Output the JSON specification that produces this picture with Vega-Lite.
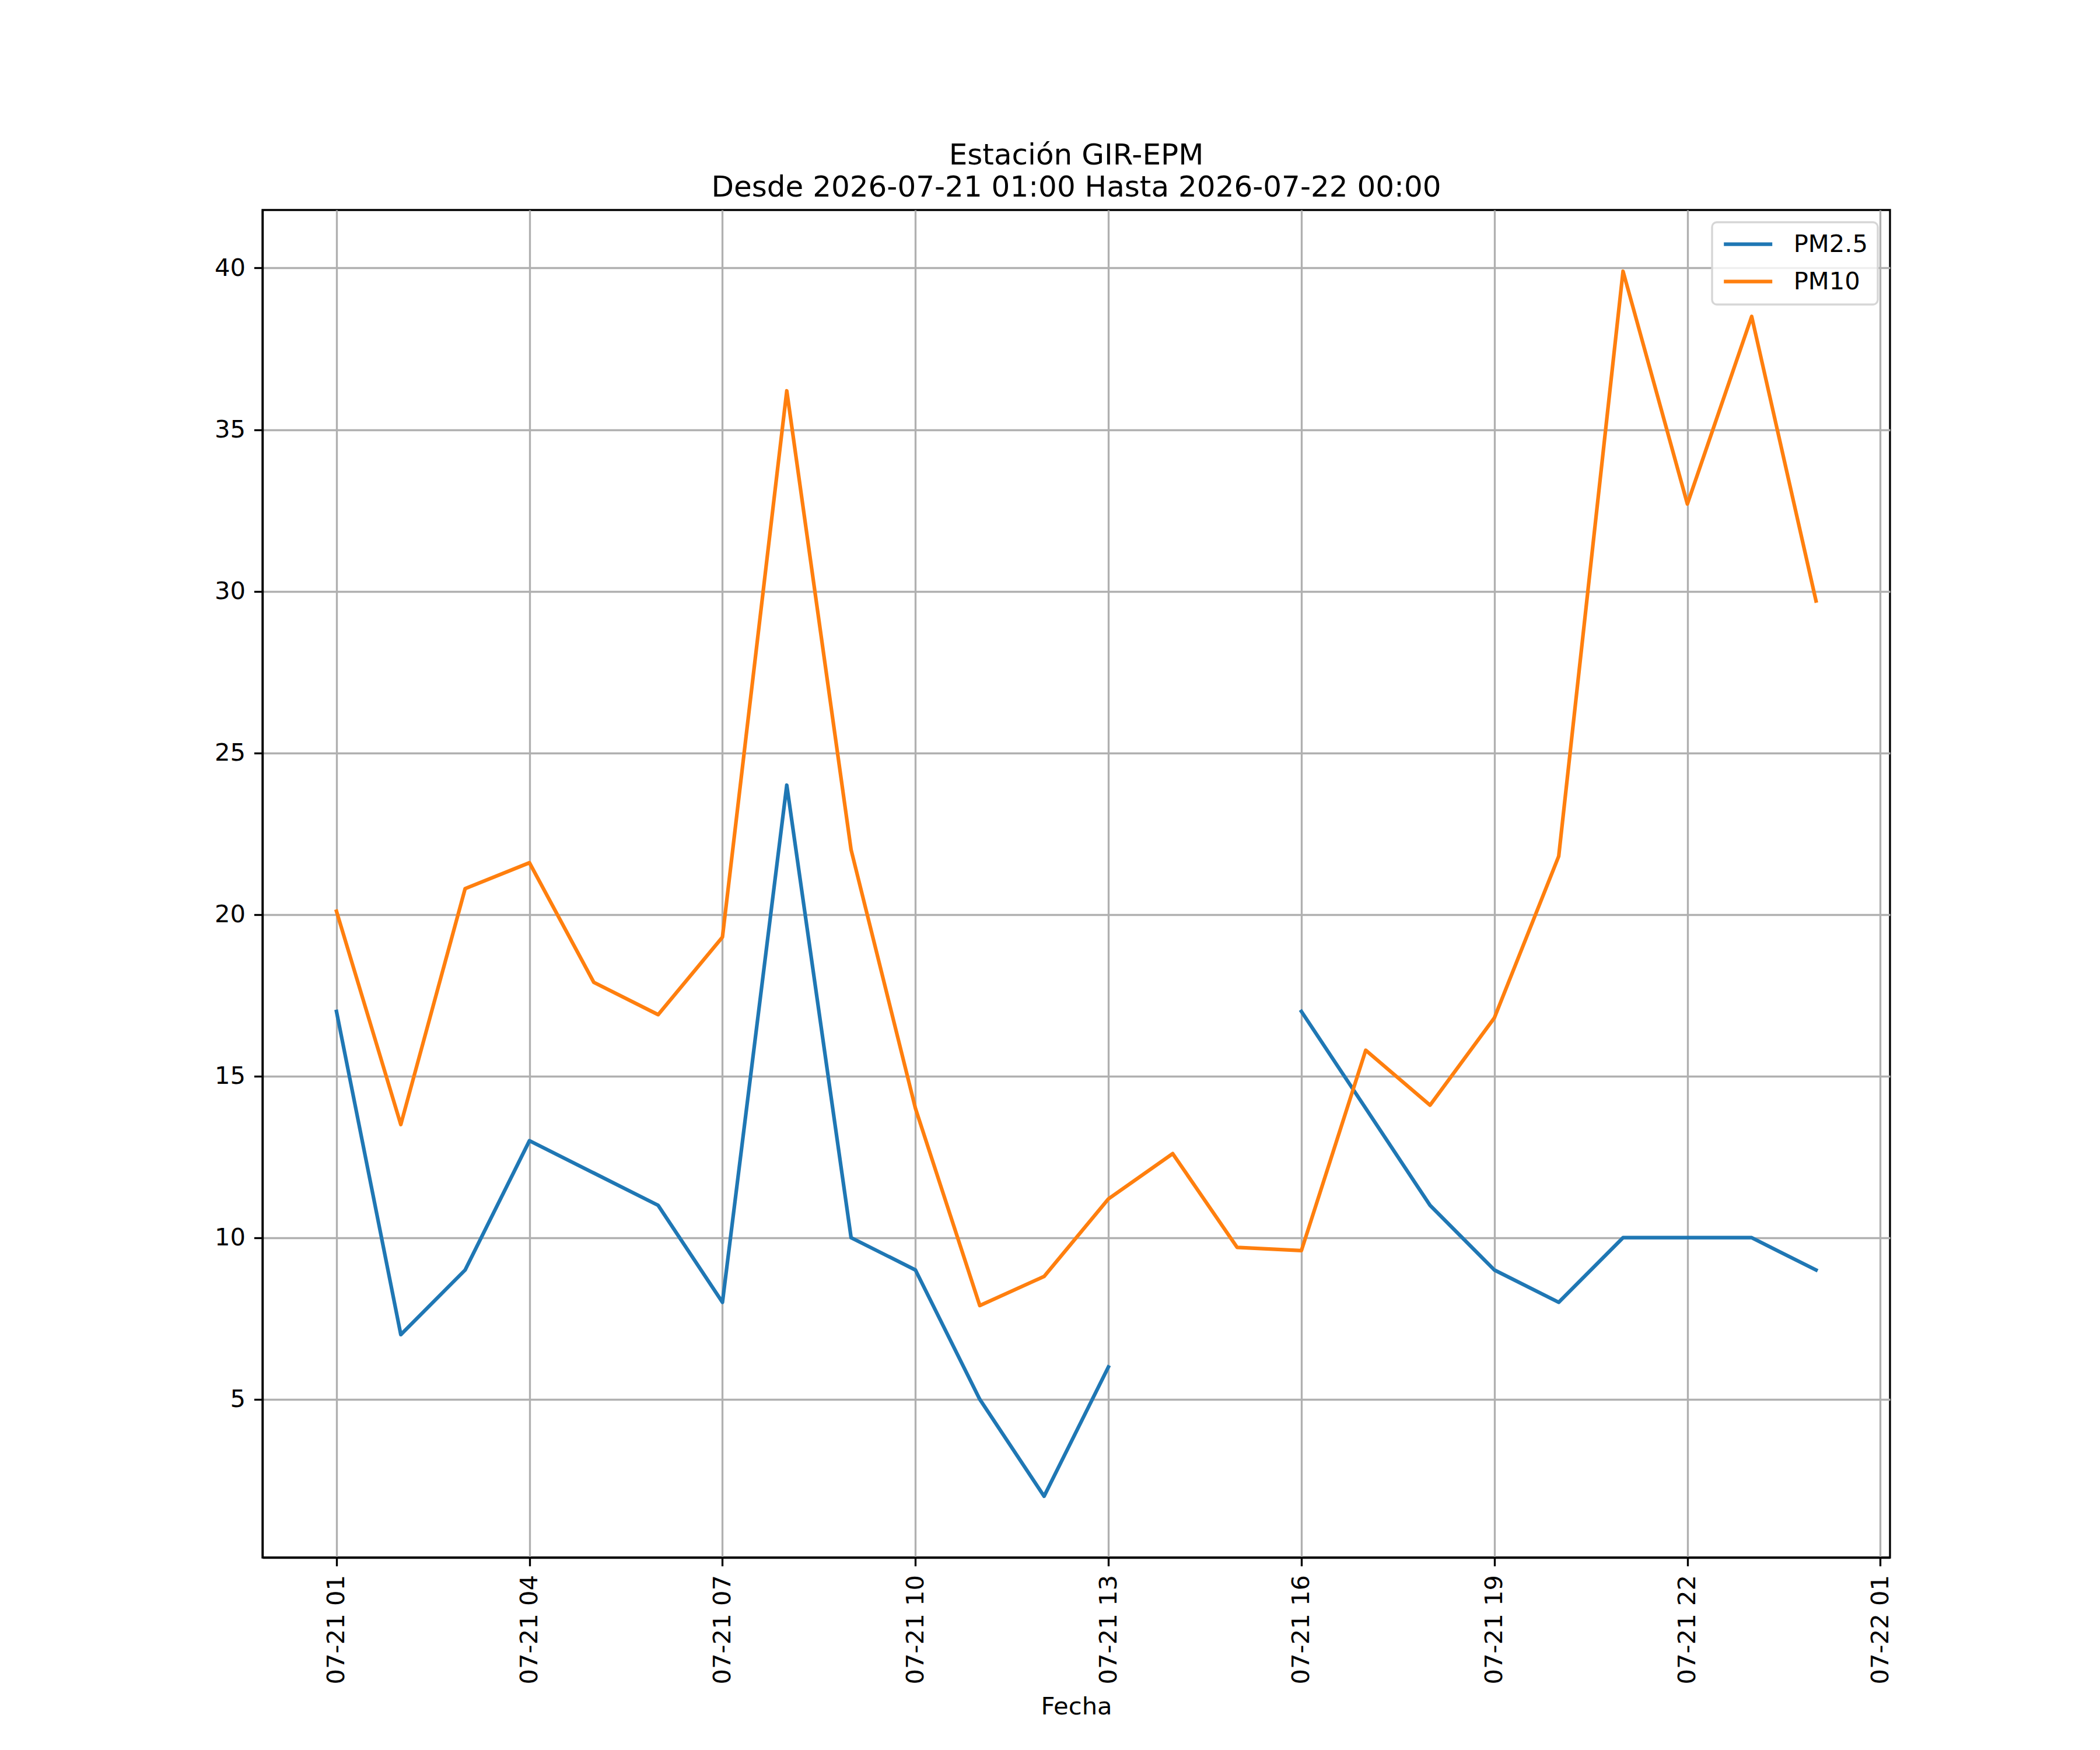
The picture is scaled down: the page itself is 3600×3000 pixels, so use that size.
{
  "$schema": "https://vega.github.io/schema/vega-lite/v6.json",
  "width": 2790,
  "height": 2310,
  "autosize": "none",
  "padding": {"left": 450, "top": 360, "right": 360, "bottom": 330},
  "background": "white",
  "title": {
    "text": ["Estación GIR-EPM", "Desde 2026-07-21 01:00 Hasta 2026-07-22 00:00"],
    "anchor": "middle",
    "frame": "group",
    "fontSize": 50,
    "fontWeight": "normal",
    "font": "DejaVu Sans",
    "lineHeight": 55,
    "offset": 13,
    "color": "black"
  },
  "config": {
    "font": "DejaVu Sans",
    "view": {"stroke": "black", "strokeWidth": 3.33},
    "axis": {
      "grid": true,
      "gridColor": "#b0b0b0",
      "gridWidth": 3.33,
      "domainColor": "black",
      "domainWidth": 3.33,
      "tickColor": "black",
      "tickWidth": 3.33,
      "tickSize": 14.6,
      "labelFontSize": 41.67,
      "labelColor": "black",
      "labelPadding": 15,
      "labelLimit": 0,
      "labelFont": "DejaVu Sans",
      "titleFontSize": 41.67,
      "titleFontWeight": "normal",
      "titleColor": "black",
      "titleFont": "DejaVu Sans"
    }
  },
  "data": {
    "values": [
      {"fecha": "2026-07-21T01:00:00", "contaminante": "PM2.5", "valor": 17},
      {"fecha": "2026-07-21T02:00:00", "contaminante": "PM2.5", "valor": 7},
      {"fecha": "2026-07-21T03:00:00", "contaminante": "PM2.5", "valor": 9},
      {"fecha": "2026-07-21T04:00:00", "contaminante": "PM2.5", "valor": 13},
      {"fecha": "2026-07-21T05:00:00", "contaminante": "PM2.5", "valor": 12},
      {"fecha": "2026-07-21T06:00:00", "contaminante": "PM2.5", "valor": 11},
      {"fecha": "2026-07-21T07:00:00", "contaminante": "PM2.5", "valor": 8},
      {"fecha": "2026-07-21T08:00:00", "contaminante": "PM2.5", "valor": 24},
      {"fecha": "2026-07-21T09:00:00", "contaminante": "PM2.5", "valor": 10},
      {"fecha": "2026-07-21T10:00:00", "contaminante": "PM2.5", "valor": 9},
      {"fecha": "2026-07-21T11:00:00", "contaminante": "PM2.5", "valor": 5},
      {"fecha": "2026-07-21T12:00:00", "contaminante": "PM2.5", "valor": 2},
      {"fecha": "2026-07-21T13:00:00", "contaminante": "PM2.5", "valor": 6},
      {"fecha": "2026-07-21T14:00:00", "contaminante": "PM2.5", "valor": null},
      {"fecha": "2026-07-21T15:00:00", "contaminante": "PM2.5", "valor": null},
      {"fecha": "2026-07-21T16:00:00", "contaminante": "PM2.5", "valor": 17},
      {"fecha": "2026-07-21T17:00:00", "contaminante": "PM2.5", "valor": 14},
      {"fecha": "2026-07-21T18:00:00", "contaminante": "PM2.5", "valor": 11},
      {"fecha": "2026-07-21T19:00:00", "contaminante": "PM2.5", "valor": 9},
      {"fecha": "2026-07-21T20:00:00", "contaminante": "PM2.5", "valor": 8},
      {"fecha": "2026-07-21T21:00:00", "contaminante": "PM2.5", "valor": 10},
      {"fecha": "2026-07-21T22:00:00", "contaminante": "PM2.5", "valor": 10},
      {"fecha": "2026-07-21T23:00:00", "contaminante": "PM2.5", "valor": 10},
      {"fecha": "2026-07-22T00:00:00", "contaminante": "PM2.5", "valor": 9},
      {"fecha": "2026-07-21T01:00:00", "contaminante": "PM10", "valor": 20.1},
      {"fecha": "2026-07-21T02:00:00", "contaminante": "PM10", "valor": 13.5},
      {"fecha": "2026-07-21T03:00:00", "contaminante": "PM10", "valor": 20.8},
      {"fecha": "2026-07-21T04:00:00", "contaminante": "PM10", "valor": 21.6},
      {"fecha": "2026-07-21T05:00:00", "contaminante": "PM10", "valor": 17.9},
      {"fecha": "2026-07-21T06:00:00", "contaminante": "PM10", "valor": 16.9},
      {"fecha": "2026-07-21T07:00:00", "contaminante": "PM10", "valor": 19.3},
      {"fecha": "2026-07-21T08:00:00", "contaminante": "PM10", "valor": 36.2},
      {"fecha": "2026-07-21T09:00:00", "contaminante": "PM10", "valor": 22.0},
      {"fecha": "2026-07-21T10:00:00", "contaminante": "PM10", "valor": 14.0},
      {"fecha": "2026-07-21T11:00:00", "contaminante": "PM10", "valor": 7.9},
      {"fecha": "2026-07-21T12:00:00", "contaminante": "PM10", "valor": 8.8},
      {"fecha": "2026-07-21T13:00:00", "contaminante": "PM10", "valor": 11.2},
      {"fecha": "2026-07-21T14:00:00", "contaminante": "PM10", "valor": 12.6},
      {"fecha": "2026-07-21T15:00:00", "contaminante": "PM10", "valor": 9.7},
      {"fecha": "2026-07-21T16:00:00", "contaminante": "PM10", "valor": 9.6},
      {"fecha": "2026-07-21T17:00:00", "contaminante": "PM10", "valor": 15.8},
      {"fecha": "2026-07-21T18:00:00", "contaminante": "PM10", "valor": 14.1},
      {"fecha": "2026-07-21T19:00:00", "contaminante": "PM10", "valor": 16.8},
      {"fecha": "2026-07-21T20:00:00", "contaminante": "PM10", "valor": 21.8},
      {"fecha": "2026-07-21T21:00:00", "contaminante": "PM10", "valor": 39.9},
      {"fecha": "2026-07-21T22:00:00", "contaminante": "PM10", "valor": 32.7},
      {"fecha": "2026-07-21T23:00:00", "contaminante": "PM10", "valor": 38.5},
      {"fecha": "2026-07-22T00:00:00", "contaminante": "PM10", "valor": 29.7}
    ]
  },
  "mark": {
    "type": "line",
    "strokeWidth": 6.25,
    "strokeCap": "square",
    "strokeJoin": "round",
    "invalid": "break-paths-filter-domains",
    "clip": true
  },
  "encoding": {
    "x": {
      "field": "fecha",
      "type": "temporal",
      "title": "Fecha",
      "scale": {
        "domain": [
          {"year": 2026, "month": 7, "date": 20, "hours": 23, "minutes": 51},
          {"year": 2026, "month": 7, "date": 22, "hours": 1, "minutes": 9}
        ],
        "nice": false
      },
      "axis": {
        "values": [
          {"year": 2026, "month": 7, "date": 21, "hours": 1},
          {"year": 2026, "month": 7, "date": 21, "hours": 4},
          {"year": 2026, "month": 7, "date": 21, "hours": 7},
          {"year": 2026, "month": 7, "date": 21, "hours": 10},
          {"year": 2026, "month": 7, "date": 21, "hours": 13},
          {"year": 2026, "month": 7, "date": 21, "hours": 16},
          {"year": 2026, "month": 7, "date": 21, "hours": 19},
          {"year": 2026, "month": 7, "date": 21, "hours": 22},
          {"year": 2026, "month": 7, "date": 22, "hours": 1}
        ],
        "format": "%m-%d %H",
        "labelAngle": 270,
        "labelAlign": "right",
        "labelBaseline": "middle",
        "labelFlush": false,
        "labelOverlap": false,
        "titlePadding": 35
      }
    },
    "y": {
      "field": "valor",
      "type": "quantitative",
      "title": null,
      "scale": {"domain": [0.105, 41.795], "nice": false, "zero": false},
      "axis": {
        "values": [5, 10, 15, 20, 25, 30, 35, 40],
        "labelFlush": false,
        "labelOverlap": false
      }
    },
    "color": {
      "field": "contaminante",
      "type": "nominal",
      "scale": {"domain": ["PM2.5", "PM10"], "range": ["#1f77b4", "#ff7f0e"]},
      "legend": {
        "title": null,
        "orient": "top-right",
        "offset": 21,
        "padding": 16.7,
        "symbolType": "stroke",
        "symbolSize": 6889,
        "symbolStrokeWidth": 6.25,
        "labelOffset": 33,
        "labelFontSize": 41.67,
        "labelFont": "DejaVu Sans",
        "labelColor": "black",
        "clipHeight": 42,
        "rowPadding": 21,
        "strokeColor": "#d6d6d6",
        "cornerRadius": 8,
        "fillColor": "rgba(255,255,255,0.8)",
        "encode": {
          "legend": {"update": {"strokeWidth": {"value": 3.33}}}
        }
      }
    }
  }
}
